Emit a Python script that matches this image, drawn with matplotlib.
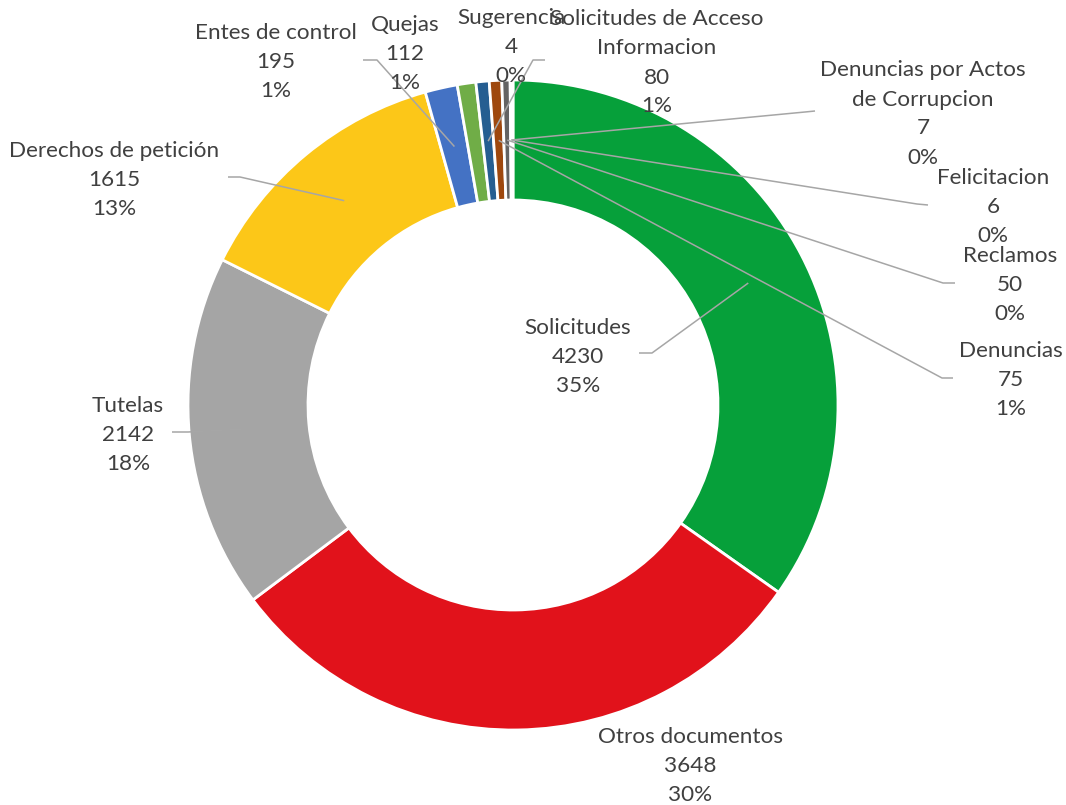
import numpy as np
import matplotlib
matplotlib.use("Agg")
import matplotlib.pyplot as plt

# data (clockwise from 12 o'clock)
categories = [
    "Solicitudes", "Otros documentos", "Tutelas", "Derechos de petición",
    "Entes de control", "Quejas", "Solicitudes de Acceso\nInformacion",
    "Denuncias", "Reclamos", "Denuncias por Actos\nde Corrupcion",
    "Felicitacion", "Sugerencia",
]
values = [4230, 3648, 2142, 1615, 195, 112, 80, 75, 50, 7, 6, 4]
pct_labels = ["35%", "30%", "18%", "13%", "1%", "1%", "1%", "1%", "0%", "0%", "0%", "0%"]

colors = ["#06A03A", "#E1121B", "#A5A5A5", "#FCC718", "#4472C4", "#70AD47",
          "#255E91", "#9E480E", "#636363", "#997300", "#264478", "#43682B"]

W, H = 1066, 805
CX, CY = 513, 405          # donut centre, pixel coords (y down)
R_OUT, R_IN = 325, 205
R_LEAD = 265
LINE_DY = 29
TEXT_DY = 2
TEXT_COLOR = "#404040"
LEAD_COLOR = "#A6A6A6"

# label centre (px) and leader (anchor, elbow) per category; None = no leader
label_pos = [(578, 355), (690, 764), (128, 433), (114, 178), (276, 60), (405, 52),
             (657, 61), (1011, 378), (1010, 283), (923, 112), (993, 205), (511, 45)]
leaders = [((639, 353), (652, 353)), None, ((172, 432), (188, 432)),
           ((228, 177), (240, 177)), ((363, 60), (377, 60)), None,
           ((545, 60), (533, 60)), ((953, 378), (942, 378)),
           ((955, 283), (943, 283)), ((815, 111), (805, 112)),
           ((928, 205), (917, 204)), None]


def Y(y):
    return H - y


fig = plt.figure(figsize=(W / 100, H / 100), dpi=100)
ax = fig.add_axes([0, 0, 1, 1])

ax.pie(values, colors=colors, startangle=90, counterclock=False,
       radius=R_OUT, center=(CX, Y(CY)),
       wedgeprops=dict(width=R_OUT - R_IN, edgecolor="white", linewidth=2))

total = float(sum(values))
mids = (np.cumsum(values) - np.array(values) / 2.0) / total * 2 * np.pi

for i, name in enumerate(categories):
    lines = name.split("\n") + [str(values[i]), pct_labels[i]]
    lx, ly = label_pos[i]
    n = len(lines)
    for k, line in enumerate(lines):
        ax.text(lx, Y(ly + TEXT_DY + (k - (n - 1) / 2.0) * LINE_DY), line,
                ha="center", va="center", fontsize=16.2, color=TEXT_COLOR,
                family=["Lato", "DejaVu Sans"], zorder=5)
    if leaders[i] is not None:
        (ax0, ay0), (ex, ey) = leaders[i]
        px = CX + R_LEAD * np.sin(mids[i])
        py = CY - R_LEAD * np.cos(mids[i])
        ax.plot([ax0, ex, px], [Y(ay0), Y(ey), Y(py)], color=LEAD_COLOR,
                lw=1.1, zorder=4, solid_capstyle="butt")

ax.set_xlim(0, W)
ax.set_ylim(0, H)
ax.set_aspect("equal")
ax.axis("off")

fig.savefig("out.png", dpi=100, facecolor="white")
plt.close(fig)
